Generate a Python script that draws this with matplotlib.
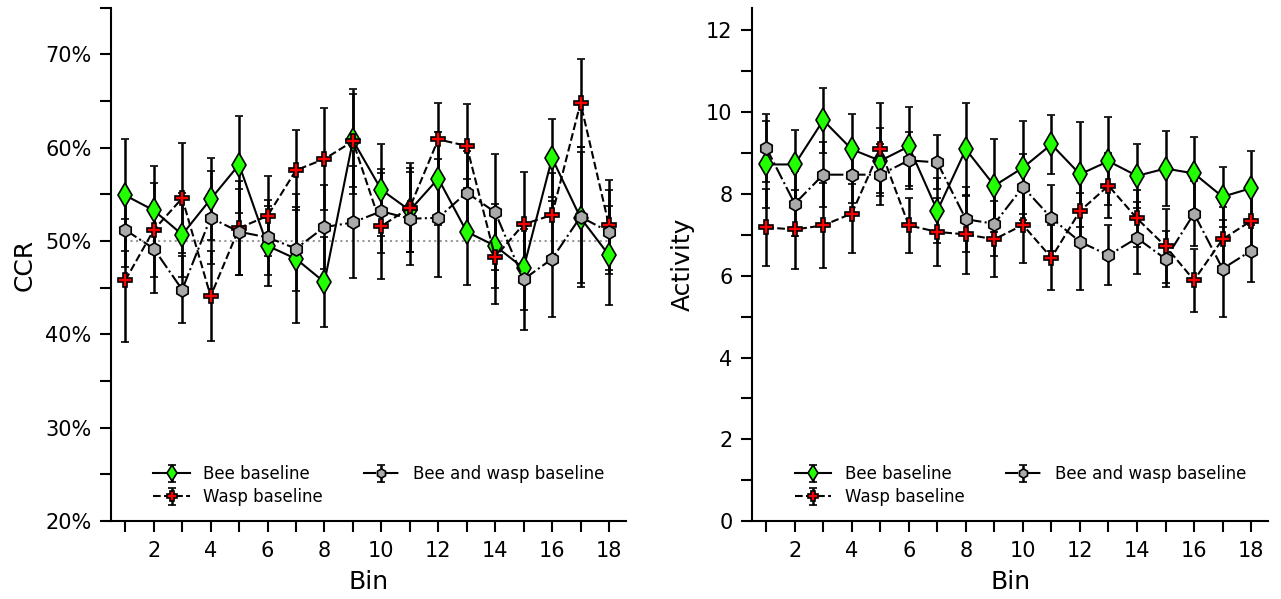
import matplotlib
matplotlib.use('Agg')
import matplotlib.pyplot as plt
import numpy as np
from matplotlib.ticker import MultipleLocator, FuncFormatter

bins = list(range(1, 19))

# CCR (%) per bin
ccrBee = [54.9, 53.3, 50.7, 54.5, 58.2, 49.5, 48.1, 45.6, 60.8, 55.5, 53.3, 56.7, 51.0, 49.5, 47.1, 58.9, 52.5, 48.5]
ccrBeeErr = [6.0, 4.7, 4.5, 4.4, 5.2, 4.3, 6.9, 4.8, 5.0, 4.9, 4.5, 5.0, 5.7, 4.5, 4.5, 4.2, 7.0, 5.3]
ccrWasp = [45.8, 51.2, 54.6, 44.1, 51.4, 52.7, 57.6, 58.8, 60.7, 51.6, 53.6, 60.9, 60.2, 48.3, 51.8, 52.8, 64.8, 51.7]
ccrWaspErr = [6.6, 5.0, 5.9, 4.8, 5.0, 4.3, 4.3, 5.5, 5.6, 5.7, 4.8, 3.9, 4.5, 5.0, 5.6, 4.5, 4.7, 4.8]
ccrBoth = [51.2, 49.2, 44.8, 52.5, 51.0, 50.4, 49.2, 51.5, 52.0, 53.2, 52.4, 52.5, 55.2, 53.1, 45.9, 48.1, 52.6, 51.0]
ccrBothErr = [4.0, 4.8, 3.6, 5.0, 4.6, 4.0, 4.5, 4.5, 6.0, 4.5, 5.0, 6.3, 4.5, 6.2, 5.4, 6.2, 7.5, 4.5]

# activity per bin
actBee = [8.72, 8.72, 9.80, 9.09, 8.81, 9.16, 7.59, 9.09, 8.20, 8.64, 9.21, 8.48, 8.80, 8.44, 8.62, 8.50, 7.93, 8.14]
actBeeErr = [1.06, 0.84, 0.79, 0.86, 0.80, 0.97, 0.80, 1.13, 1.13, 1.14, 0.73, 1.28, 1.07, 0.79, 0.92, 0.89, 0.73, 0.91]
actWasp = [7.18, 7.13, 7.23, 7.52, 9.09, 7.23, 7.07, 7.01, 6.89, 7.24, 6.44, 7.58, 8.20, 7.40, 6.72, 5.89, 6.89, 7.34]
actWaspErr = [0.95, 0.97, 1.04, 0.96, 1.13, 0.67, 0.84, 0.97, 0.93, 0.92, 0.79, 0.80, 0.80, 0.70, 0.90, 0.77, 0.80, 0.80]
actBoth = [9.13, 7.76, 8.47, 8.47, 8.47, 8.82, 8.77, 7.38, 7.27, 8.17, 7.41, 6.83, 6.50, 6.92, 6.41, 7.52, 6.17, 6.61]
actBothErr = [0.83, 0.80, 0.80, 0.70, 0.74, 0.70, 0.66, 0.80, 0.80, 0.80, 0.80, 1.18, 0.73, 0.87, 0.68, 0.80, 1.19, 0.77]

labels = ['Bee baseline', 'Wasp baseline', 'Bee and wasp baseline']
styles = [
    dict(fmt='-', marker='d', mfc='#22ff00', ms=12),
    dict(fmt='--', marker='P', mfc='#ff0000', ms=9.5),
    dict(fmt='-.', marker='h', mfc='#aaaaaa', ms=9.5),
]

fig = plt.figure(figsize=(12.81, 5.99), dpi=100)
axL = fig.add_axes([0.0867, 0.130, 0.402, 0.857])
axR = fig.add_axes([0.587, 0.130, 0.403, 0.857])


def drawPanel(ax, series):
    handles = []
    for (y, err), st, lab in zip(series, styles, labels):
        h = ax.errorbar(bins, y, yerr=err, fmt=st['fmt'], marker=st['marker'], color='black',
                        mfc=st['mfc'], mec='black', mew=1.2, ms=st['ms'], lw=1.5,
                        elinewidth=1.8, capsize=3, capthick=1.8, label=lab)
        handles.append(h)
    ax.spines['top'].set_visible(False)
    ax.spines['right'].set_visible(False)
    ax.spines['left'].set_linewidth(1.5)
    ax.spines['bottom'].set_linewidth(1.5)
    ax.set_xlim(0.5, 18.6)
    ax.xaxis.set_major_locator(MultipleLocator(2))
    ax.xaxis.set_minor_locator(MultipleLocator(1))
    ax.tick_params(which='both', direction='out', width=1.5, labelsize=15, pad=6)
    ax.tick_params(which='major', length=8)
    ax.tick_params(which='minor', length=8)
    ax.set_xlabel('Bin', fontsize=18, labelpad=7)
    ax.legend(handles=handles, loc='lower center', ncol=2, frameon=False, fontsize=12,
              handlelength=2.2, markerscale=0.7, columnspacing=2.4, labelspacing=0.3,
              bbox_to_anchor=(0.52, 0.0))


axL.plot([1, 18], [50, 50], ':', color='#999999', lw=1.5, zorder=0)
drawPanel(axL, [(ccrBee, ccrBeeErr), (ccrWasp, ccrWaspErr), (ccrBoth, ccrBothErr)])
axL.set_ylim(20, 75)
axL.yaxis.set_major_locator(MultipleLocator(10))
axL.yaxis.set_minor_locator(MultipleLocator(5))
axL.yaxis.set_major_formatter(FuncFormatter(lambda v, p: '%d%%' % v))
axL.set_ylabel('CCR', fontsize=18, labelpad=6)

drawPanel(axR, [(actBee, actBeeErr), (actWasp, actWaspErr), (actBoth, actBothErr)])
axR.set_ylim(0, 12.55)
axR.yaxis.set_major_locator(MultipleLocator(2))
axR.yaxis.set_minor_locator(MultipleLocator(1))
axR.set_ylabel('Activity', fontsize=18, labelpad=8)

fig.savefig('out.png', dpi=100)
